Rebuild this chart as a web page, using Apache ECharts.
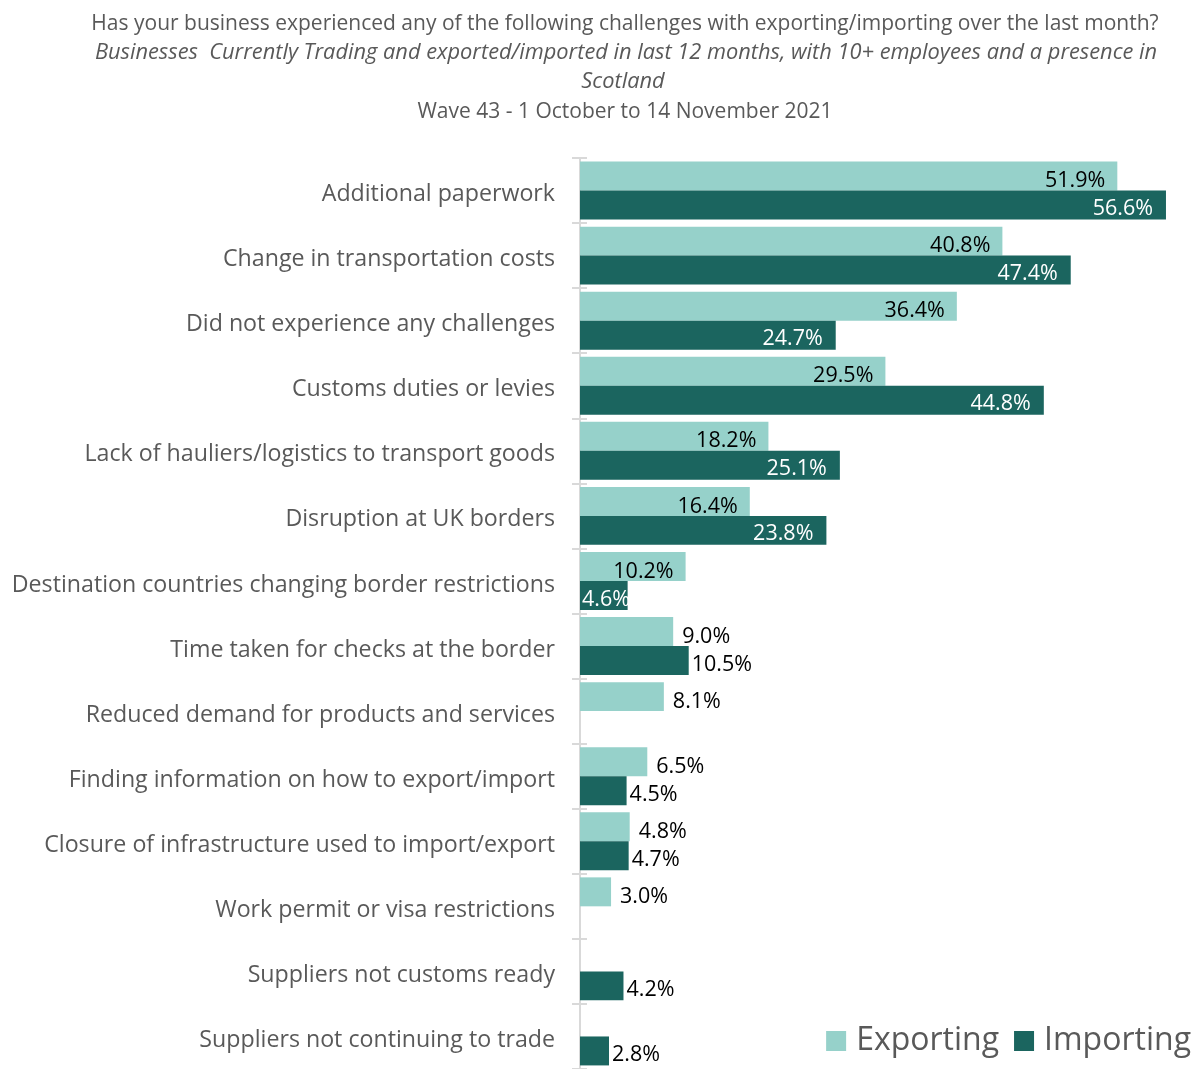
<!DOCTYPE html>
<html>
<head>
<meta charset="utf-8">
<script src="https://cdn.jsdelivr.net/npm/echarts@6/dist/echarts.min.js"></script>
<style>html,body{margin:0;padding:0;background:#fff}#c{width:1196px;height:1069px}</style>
</head>
<body>
<div id="c"></div>
<script>
const categories = [
  "Additional paperwork",
  "Change in transportation costs",
  "Did not experience any challenges",
  "Customs duties or levies",
  "Lack of hauliers/logistics to transport goods",
  "Disruption at UK borders",
  "Destination countries changing border restrictions",
  "Time taken for checks at the border",
  "Reduced demand for products and services",
  "Finding information on how to export/import",
  "Closure of infrastructure used to import/export",
  "Work permit or visa restrictions",
  "Suppliers not customs ready",
  "Suppliers not continuing to trade"
];
const exporting = [51.9, 40.8, 36.4, 29.5, 18.2, 16.4, 10.2, 9.0, 8.1, 6.5, 4.8, 3.0, null, null];
const importing = [56.6, 47.4, 24.7, 44.8, 25.1, 23.8, 4.6, 10.5, null, 4.5, 4.7, null, 4.2, 2.8];
const titleLines = [
  "Has your business experienced any of the following challenges with exporting/importing over the last month?",
  "Businesses  Currently Trading and exported/imported in last 12 months, with 10+ employees and a presence in",
  "Scotland",
  "Wave 43 - 1 October to 14 November 2021"
];

const FONT = "Open Sans";
const fmt = p => p.value.toFixed(1) + "%";

function expData() {
  return exporting.map(v => {
    if (v == null) return null;
    if (v >= 10) return {value: v, label: {position: "insideRight", distance: 12, color: "#000"}};
    return {value: v, label: {position: "right", distance: 9, color: "#000"}};
  });
}
function impData() {
  return importing.map(v => {
    if (v == null) return null;
    if (v >= 20) return {value: v, label: {position: "insideRight", distance: 13, color: "#fff"}};
    if (v === 4.6) return {value: v, label: {position: "insideLeft", distance: 2, color: "#fff"}};
    return {value: v, label: {position: "right", distance: 3, color: "#000"}};
  });
}

const titleStyle = {fontFamily: FONT, fontSize: 21, fontWeight: "normal", color: "#595959"};
const italicStyle = Object.assign({}, titleStyle, {fontStyle: "italic", fontSize: 21.8});
const chart = echarts.init(document.getElementById("c"));
chart.setOption({
  animation: false,
  title: [
    {text: titleLines[0], left: 620, top: 9, textAlign: "center", textStyle: titleStyle},
    {text: titleLines[1], left: 621, top: 37, textAlign: "center", textStyle: italicStyle},
    {text: titleLines[2], left: 618, top: 66, textAlign: "center", textStyle: italicStyle},
    {text: titleLines[3], left: 620, top: 97, textAlign: "center", textStyle: titleStyle}
  ],
  legend: {
    right: 0, top: 1020,
    itemWidth: 20, itemHeight: 20, itemGap: 15,
    icon: "rect",
    textStyle: {fontFamily: FONT, fontSize: 32, color: "#595959", padding: [0, 0, 0, 5]},
    data: ["Exporting", "Importing"]
  },
  grid: {left: 580, top: 158, right: 0, height: 917, containLabel: false},
  xAxis: {type: "value", min: 0, max: 59.5, show: false},
  yAxis: [
    {
      type: "category", data: categories, inverse: true,
      axisLine: {show: true, lineStyle: {color: "#D9D9D9", width: 2}},
      axisTick: {show: true, inside: false, length: 8, lineStyle: {color: "#D9D9D9", width: 2}},
      axisLabel: {
        margin: 25,
        formatter: v => "{a|" + v + "}",
        rich: {a: {fontFamily: FONT, fontSize: 23.2, color: "#595959", padding: [8, 0, 0, 0]}}
      }
    },
    {
      type: "category", data: categories, inverse: true, position: "left",
      axisLine: {show: false},
      axisTick: {show: true, inside: true, length: 7, lineStyle: {color: "#D9D9D9", width: 2}},
      axisLabel: {show: false}
    }
  ],
  series: [
    {
      name: "Exporting", type: "bar", data: expData(), yAxisIndex: 0,
      barGap: "0%", barCategoryGap: "11%",
      itemStyle: {color: "#96D1CA"},
      label: {show: true, formatter: fmt, fontFamily: FONT, fontSize: 21.5, offset: [0, 5]}
    },
    {
      name: "Importing", type: "bar", data: impData(), yAxisIndex: 0,
      barGap: "0%", barCategoryGap: "11%",
      itemStyle: {color: "#1B655F"},
      label: {show: true, formatter: fmt, fontFamily: FONT, fontSize: 21.5, offset: [0, 4]}
    }
  ]
});
</script>
</body>
</html>
